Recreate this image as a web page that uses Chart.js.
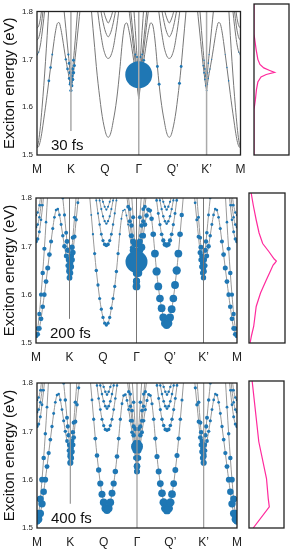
<!DOCTYPE html>
<html>
<head>
<meta charset="utf-8">
<script src="https://cdn.jsdelivr.net/npm/chart.js"></script>
<style>
  body { margin: 0; background: #fff; }
  #wrap { position: relative; width: 292px; height: 551px; overflow: hidden; }
  canvas { position: absolute; }
</style>
</head>
<body>
<div id="wrap"></div>
<script>
// =============================
// DATA
// =============================

// high-symmetry path, k runs 0..6
const kLabels = ["M", "K", "Q", "Γ", "Q’", "K’", "M"]
const yTicks = [1.5, 1.6, 1.7, 1.8]
const timeLabels = ["30 fs", "200 fs", "400 fs"]

// exciton bands, half path M -> Γ (the other half is the mirror image)
const msK = [0, 0.05, 0.1, 0.15, 0.2, 0.25, 0.3, 0.35]
const msE = [1.515, 1.53, 1.56, 1.6, 1.645, 1.695, 1.75, 1.81]
const mkK = [0, 0.05, 0.1, 0.15, 0.2, 0.25, 0.3, 0.35, 0.4, 0.45, 0.5, 0.55, 0.6, 0.65, 0.7, 0.75, 0.8, 0.85, 0.9, 0.95, 0.975, 1.0]
const mkE = [1.515, 1.518, 1.53, 1.55, 1.575, 1.6, 1.627, 1.655, 1.683, 1.71, 1.737, 1.76, 1.775, 1.777, 1.765, 1.745, 1.722, 1.7, 1.68, 1.66, 1.648, 1.635]
const c1K = [0, 0.05, 0.1, 0.15, 0.2, 0.25]
const c1E = [1.71, 1.715, 1.73, 1.755, 1.785, 1.82]
const c2K = [0, 0.05, 0.1, 0.15, 0.2]
const c2E = [1.74, 1.745, 1.76, 1.785, 1.815]
const c3K = [0, 0.05, 0.1, 0.15]
const c3E = [1.765, 1.77, 1.785, 1.81]
const klK = [1.0, 1.025, 1.05, 1.075, 1.1, 1.15, 1.2, 1.25, 1.3]
const klE = [1.635, 1.645, 1.658, 1.672, 1.687, 1.72, 1.755, 1.79, 1.825]
const kuK = [0.75, 0.8, 0.85, 0.9, 0.925, 0.95, 0.975, 1.0, 1.025, 1.05, 1.075, 1.1, 1.15, 1.2]
const kuE = [1.835, 1.8, 1.765, 1.728, 1.71, 1.692, 1.672, 1.652, 1.665, 1.68, 1.698, 1.718, 1.76, 1.805]
const qlK = [1.6, 1.65, 1.7, 1.75, 1.8, 1.85, 1.9, 1.95, 2.0, 2.05, 2.1, 2.15, 2.2, 2.25, 2.3, 2.35, 2.4, 2.45,
             2.5, 2.55, 2.6, 2.65, 2.7, 2.75, 2.8, 2.85, 2.9, 2.95, 3.0]
const qlE = [1.805, 1.765, 1.725, 1.685, 1.65, 1.62, 1.592, 1.57, 1.553, 1.541, 1.537, 1.541, 1.553, 1.572, 1.592, 1.617, 1.648, 1.685,
             1.725, 1.757, 1.774, 1.776, 1.764, 1.745, 1.722, 1.698, 1.672, 1.645, 1.617]
const q1K = [1.75, 1.8, 1.85, 1.9, 1.95, 2.0, 2.05, 2.1, 2.15, 2.2, 2.25, 2.3, 2.35, 2.4, 2.45]
const q1E = [1.825, 1.795, 1.768, 1.745, 1.725, 1.712, 1.704, 1.702, 1.704, 1.712, 1.725, 1.745, 1.768, 1.795, 1.825]
const q2K = [1.85, 1.9, 1.95, 2.0, 2.05, 2.1, 2.15, 2.2, 2.25, 2.3, 2.35]
const q2E = [1.815, 1.795, 1.777, 1.762, 1.752, 1.747, 1.752, 1.762, 1.777, 1.795, 1.815]
const q3K = [1.95, 2.0, 2.05, 2.1, 2.15, 2.2, 2.25]
const q3E = [1.805, 1.792, 1.782, 1.776, 1.782, 1.792, 1.805]
const g2K = [2.7, 2.75, 2.8, 2.85, 2.9, 2.95, 3.0]
const g2E = [1.81, 1.782, 1.752, 1.722, 1.692, 1.66, 1.628]
const g3K = [2.75, 2.8, 2.85, 2.9, 2.95, 3.0]
const g3E = [1.81, 1.777, 1.743, 1.71, 1.677, 1.645]
const g4K = [2.85, 2.9, 2.95, 3.0]
const g4E = [1.81, 1.76, 1.705, 1.665]

// population weight of each band (left half, right half) for each delay
const w30L = [0, 0.9, 0.9, 0, 0, 1.1, 1.1, 0, 0, 0, 0, 0.9, 0.9, 0.9]
const w30R = [0, 0.5, 0.9, 0, 0, 0.6, 0.6, 1.0, 0, 0, 0, 0.9, 0.9, 0.9]
const w200L = [1, 1.1, 1, 1, 1, 1.3, 1.3, 0.75, 0.9, 0.9, 0.9, 1.6, 1.6, 1.6]
const w200R = [1, 1.1, 1, 1, 1, 1.2, 1.2, 1.8, 1.2, 1, 1, 1.6, 1.6, 1.6]
const w400L = [1, 1, 1, 1, 1, 1.3, 1.3, 1.05, 1, 1, 1, 1.3, 1.3, 1.3]
const w400R = [1, 1, 1, 1, 1, 1.3, 1.3, 1.15, 1.1, 1, 1, 1.3, 1.3, 1.3]

// occupation vs energy for each delay
const prof30E = [1.5, 1.625, 1.635, 1.665, 1.7, 1.712, 1.72, 1.8]
const prof30P = [0, 0, 1.4, 1.6, 1.3, 1.0, 0, 0]
const prof200E = [1.5, 1.55, 1.6, 1.65, 1.7, 1.72, 1.75, 1.8]
const prof200P = [2.2, 2.2, 2.1, 2.3, 2.1, 1.6, 1.3, 1.1]
const prof400E = [1.5, 1.55, 1.6, 1.65, 1.7, 1.75, 1.8]
const prof400P = [3.7, 3.7, 2.8, 2.2, 1.7, 1.4, 1.2]

// bright exciton at Γ
const brightE = 1.668
const brightPop = [13.5, 11, 6]

// side spectra (intensity vs energy)
const spec30E = [1.5, 1.59, 1.61, 1.63, 1.645, 1.655, 1.66, 1.664, 1.668, 1.673, 1.68, 1.69, 1.71, 1.74, 1.8]
const spec30I = [0, 0, 0.04, 0.07, 0.11, 0.2, 0.35, 0.59, 0.45, 0.28, 0.17, 0.11, 0.06, 0, 0]
const spec200E = [1.5, 1.515, 1.533, 1.55, 1.573, 1.6, 1.626, 1.64, 1.656, 1.66, 1.664, 1.668, 1.683, 1.699, 1.72, 1.746, 1.775, 1.8]
const spec200I = [0.03, 0.07, 0.13, 0.16, 0.2, 0.32, 0.48, 0.57, 0.67, 0.72, 0.76, 0.7, 0.55, 0.38, 0.28, 0.2, 0.12, 0.06]
const spec400E = [1.5, 1.543, 1.56, 1.601, 1.676, 1.8]
const spec400I = [0.12, 0.58, 0.55, 0.5, 0.28, 0.09]


// =============================
// HELPERS
// =============================

const bandsK = [msK, mkK, c1K, c2K, c3K, klK, kuK, qlK, q1K, q2K, q3K, g2K, g3K, g4K]
const bandsE = [msE, mkE, c1E, c2E, c3E, klE, kuE, qlE, q1E, q2E, q3E, g2E, g3E, g4E]

Chart.defaults.font.family = "'Liberation Sans', Arial, sans-serif"

function bandPoints(i, right){
    const pts = bandsK[i].map((k, j) => ({ x: right ? 6 - k : k, y: bandsE[i][j] }))
    return right ? pts.reverse() : pts
}

function valueAt(xs, ys, v){
    if(v <= xs[0]) return ys[0]
    for(let i = 1; i < xs.length; i++){
        if(v <= xs[i]){
            const t = (v - xs[i-1]) / (xs[i] - xs[i-1])
            return ys[i-1] + t * (ys[i] - ys[i-1])
        }
    }
    return ys[ys.length - 1]
}

const panels = [
    { area: [37, 4, 247, 155], side: [254, 4, 289, 155], profE: prof30E, profP: prof30P,
      wL: w30L, wR: w30R, specE: spec30E, specI: spec30I, line: "#777", vline: "#aaa", vw: 1.5 },
    { area: [36, 193, 242, 343], side: [249, 193, 285, 343], profE: prof200E, profP: prof200P,
      wL: w200L, wR: w200R, specE: spec200E, specI: spec200I, line: "#999", vline: "#777", vw: 1 },
    { area: [37, 381, 242, 528], side: [249, 381, 284, 528], profE: prof400E, profP: prof400P,
      wL: w400L, wR: w400R, specE: spec400E, specI: spec400I, line: "#999", vline: "#999", vw: 1.2 }
]

const wrap = document.getElementById("wrap")

function addCanvas(left, top, w, h){
    const c = document.createElement("canvas")
    c.width = w
    c.height = h
    c.style.left = left + "px"
    c.style.top = top + "px"
    c.style.width = w + "px"
    c.style.height = h + "px"
    wrap.appendChild(c)
    return c
}

const framePlugin = {
    id: "frame",
    afterDraw(chart){
        const a = chart.chartArea
        const ctx = chart.ctx
        ctx.save()
        ctx.strokeStyle = "#222"
        ctx.lineWidth = 1.3
        ctx.strokeRect(a.left, a.top, a.right - a.left, a.bottom - a.top)
        ctx.restore()
    }
}


// =============================
// MAIN PANELS
// =============================

function criarPainel(p, idx){

    const [L, T, R, B] = p.area
    const canvas = addCanvas(0, T - 6, R + 7, B + 25 - (T - 6))

    const datasets = []

    for(const right of [false, true]){
        const w = right ? p.wR : p.wL
        for(let i = 0; i < bandsK.length; i++){
            const pts = bandPoints(i, right)
            datasets.push({
                data: pts,
                showLine: true,
                borderColor: p.line,
                borderWidth: 1,
                pointRadius: 0,
                cubicInterpolationMode: "monotone",
                order: 3
            })
            const radii = pts.map(pt => {
                const r = w[i] * valueAt(p.profE, p.profP, pt.y)
                return r < 0.5 ? 0 : r
            })
            datasets.push({
                data: pts,
                showLine: false,
                pointRadius: radii,
                pointBackgroundColor: "#1f77b4",
                pointBorderWidth: 0,
                order: 1
            })
        }
    }

    datasets.push({
        data: [{ x: 3, y: brightE }],
        showLine: false,
        pointRadius: [brightPop[idx]],
        pointBackgroundColor: "#1f77b4",
        pointBorderWidth: 0,
        order: 0
    })

    const extras = {
        id: "extras",
        afterDatasetsDraw(chart){
            const ctx = chart.ctx
            const xs = chart.scales.x, ys = chart.scales.y
            const a = chart.chartArea
            ctx.save()
            ctx.strokeStyle = p.vline
            ctx.lineWidth = p.vw
            const vl = [[1, 1.55], [3, 1.5], [5, 1.5]]
            for(const [k, e0] of vl){
                const x = xs.getPixelForValue(k)
                ctx.beginPath()
                ctx.moveTo(x, ys.getPixelForValue(e0))
                ctx.lineTo(x, a.top)
                ctx.stroke()
            }
            ctx.fillStyle = "#111"
            ctx.font = "15px 'Liberation Sans', Arial, sans-serif"
            ctx.textBaseline = "alphabetic"
            ctx.fillText(timeLabels[idx], a.left + 14, a.bottom - 5)
            ctx.restore()
        }
    }

    return new Chart(canvas.getContext("2d"), {
        type: "scatter",
        data: { datasets },
        options: {
            responsive: false,
            animation: false,
            devicePixelRatio: 1,
            layout: { padding: { top: 6, right: 7, left: 0, bottom: 0 } },
            plugins: { legend: { display: false }, tooltip: { enabled: false } },
            scales: {
                x: {
                    type: "linear", min: 0, max: 6,
                    afterBuildTicks: s => { s.ticks = kLabels.map((_, i) => ({ value: i })) },
                    afterFit: s => { s.height = 25 },
                    ticks: { autoSkip: false, maxRotation: 0, padding: 7, color: "#222",
                             font: { size: 12 }, callback: (v, i) => kLabels[i] },
                    grid: { display: false, drawTicks: false },
                    border: { display: false }
                },
                y: {
                    min: 1.5, max: 1.8,
                    afterBuildTicks: s => { s.ticks = yTicks.map(v => ({ value: v })) },
                    afterFit: s => { s.width = L },
                    ticks: { padding: 4, color: "#222", font: { size: 8, lineHeight: 1 },
                             callback: v => v.toFixed(1) },
                    grid: { display: false, drawTicks: false },
                    border: { display: false },
                    title: { display: true, text: "Exciton energy (eV)", color: "#111",
                             font: { size: 15 }, padding: { top: 1, bottom: 0 } }
                }
            }
        },
        plugins: [extras, framePlugin]
    })
}


// =============================
// SIDE SPECTRA
// =============================

function criarEspectro(p){

    const [L, T, R, B] = p.side
    const canvas = addCanvas(L - 1, T - 1, R - L + 2, B - T + 2)

    return new Chart(canvas.getContext("2d"), {
        type: "scatter",
        data: {
            datasets: [{
                data: p.specE.map((e, i) => ({ x: p.specI[i], y: e })),
                showLine: true,
                borderColor: "#ff2a9d",
                borderWidth: 1.2,
                pointRadius: 0,
                tension: 0
            }]
        },
        options: {
            responsive: false,
            animation: false,
            devicePixelRatio: 1,
            layout: { padding: 1 },
            plugins: { legend: { display: false }, tooltip: { enabled: false } },
            scales: {
                x: { display: false, min: 0, max: 1 },
                y: { display: false, min: 1.5, max: 1.8 }
            }
        },
        plugins: [framePlugin]
    })
}

panels.forEach((p, i) => {
    criarPainel(p, i)
    criarEspectro(p)
})
</script>
</body>
</html>
